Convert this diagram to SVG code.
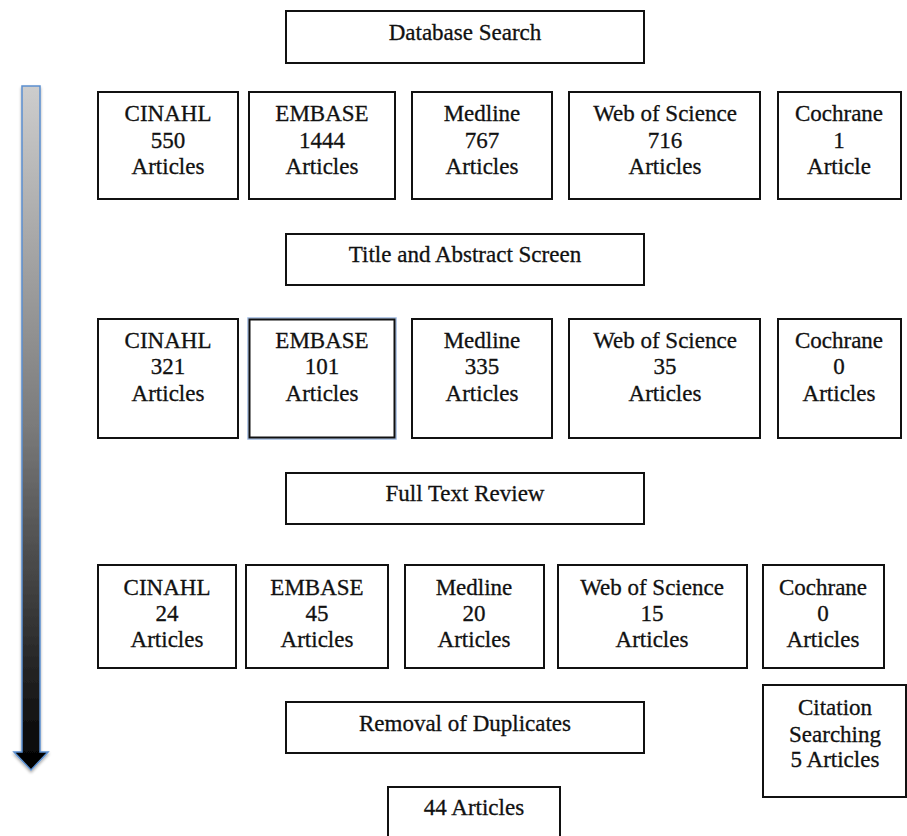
<svg xmlns="http://www.w3.org/2000/svg" width="907" height="836" viewBox="0 0 907 836">
<style>
  .box { fill: #ffffff; stroke: #111111; stroke-width: 2; }
  .t { font-family: "Liberation Serif", "DejaVu Serif", serif; font-size: 23px; fill: #111111; stroke: #111111; stroke-width: 0.3; text-anchor: middle; }
</style>
<defs>
  <linearGradient id="arrowGrad" x1="0" y1="0" x2="0" y2="1">
    <stop offset="0" stop-color="#cdcdcd"/>
    <stop offset="0.5" stop-color="#7a7a7a"/>
    <stop offset="1" stop-color="#000000"/>
  </linearGradient>
  <filter id="shadow" x="-50%" y="-5%" width="200%" height="110%">
    <feGaussianBlur in="SourceAlpha" stdDeviation="1.5"/>
    <feOffset dx="0" dy="2" result="b"/>
    <feComponentTransfer><feFuncA type="linear" slope="0.35"/></feComponentTransfer>
    <feMerge><feMergeNode/><feMergeNode in="SourceGraphic"/></feMerge>
  </filter>
</defs>
<rect x="0" y="0" width="907" height="836" fill="#ffffff"/>

<g id="connectors">
  <polygon id="timeline-arrow" points="22,86 40,86 40,752 48,752 31,770 14,752 22,752" fill="url(#arrowGrad)" stroke="#5b8fd0" stroke-width="1.5" filter="url(#shadow)"/>
</g>

<g id="database-search"><rect class="box" x="286" y="11" width="358" height="52"/><text class="t" x="465" y="40">Database Search</text></g>

<g id="r1-cinahl"><rect class="box" x="98" y="92" width="140" height="107"/><text class="t" x="168" y="121">CINAHL</text><text class="t" x="168" y="148">550</text><text class="t" x="168" y="174">Articles</text></g>
<g id="r1-embase"><rect class="box" x="249" y="92" width="146" height="107"/><text class="t" x="322" y="121">EMBASE</text><text class="t" x="322" y="148">1444</text><text class="t" x="322" y="174">Articles</text></g>
<g id="r1-medline"><rect class="box" x="412" y="92" width="140" height="107"/><text class="t" x="482" y="121">Medline</text><text class="t" x="482" y="148">767</text><text class="t" x="482" y="174">Articles</text></g>
<g id="r1-wos"><rect class="box" x="569" y="92" width="191" height="107"/><text class="t" x="665" y="121">Web of Science</text><text class="t" x="665" y="148">716</text><text class="t" x="665" y="174">Articles</text></g>
<g id="r1-cochrane"><rect class="box" x="778" y="92" width="123" height="107"/><text class="t" x="839" y="121">Cochrane</text><text class="t" x="839" y="148">1</text><text class="t" x="839" y="174">Article</text></g>

<g id="title-abstract"><rect class="box" x="286" y="234" width="358" height="51"/><text class="t" x="465" y="262">Title and Abstract Screen</text></g>

<g id="r2-cinahl"><rect class="box" x="98" y="319" width="140" height="119"/><text class="t" x="168" y="348">CINAHL</text><text class="t" x="168" y="374">321</text><text class="t" x="168" y="401">Articles</text></g>
<g id="r2-embase"><rect x="248" y="318" width="148" height="121" fill="none" stroke="#9db8e0" stroke-width="1.5"/><rect class="box" x="249.5" y="319.5" width="145" height="118" stroke="#333333" stroke-width="1.5"/><text class="t" x="322" y="348">EMBASE</text><text class="t" x="322" y="374">101</text><text class="t" x="322" y="401">Articles</text></g>
<g id="r2-medline"><rect class="box" x="412" y="319" width="140" height="119"/><text class="t" x="482" y="348">Medline</text><text class="t" x="482" y="374">335</text><text class="t" x="482" y="401">Articles</text></g>
<g id="r2-wos"><rect class="box" x="569" y="319" width="191" height="119"/><text class="t" x="665" y="348">Web of Science</text><text class="t" x="665" y="374">35</text><text class="t" x="665" y="401">Articles</text></g>
<g id="r2-cochrane"><rect class="box" x="778" y="319" width="123" height="119"/><text class="t" x="839" y="348">Cochrane</text><text class="t" x="839" y="374">0</text><text class="t" x="839" y="401">Articles</text></g>

<g id="full-text"><rect class="box" x="286" y="473" width="358" height="51"/><text class="t" x="465" y="501">Full Text Review</text></g>

<g id="r3-cinahl"><rect class="box" x="98" y="565" width="138" height="103"/><text class="t" x="167" y="595">CINAHL</text><text class="t" x="167" y="621">24</text><text class="t" x="167" y="647">Articles</text></g>
<g id="r3-embase"><rect class="box" x="246" y="565" width="142" height="103"/><text class="t" x="317" y="595">EMBASE</text><text class="t" x="317" y="621">45</text><text class="t" x="317" y="647">Articles</text></g>
<g id="r3-medline"><rect class="box" x="405" y="565" width="139" height="103"/><text class="t" x="474" y="595">Medline</text><text class="t" x="474" y="621">20</text><text class="t" x="474" y="647">Articles</text></g>
<g id="r3-wos"><rect class="box" x="558" y="565" width="189" height="103"/><text class="t" x="652" y="595">Web of Science</text><text class="t" x="652" y="621">15</text><text class="t" x="652" y="647">Articles</text></g>
<g id="r3-cochrane"><rect class="box" x="763" y="565" width="121" height="103"/><text class="t" x="823" y="595">Cochrane</text><text class="t" x="823" y="621">0</text><text class="t" x="823" y="647">Articles</text></g>

<g id="citation"><rect class="box" x="763" y="685" width="143" height="112"/><text class="t" x="835" y="715">Citation</text><text class="t" x="835" y="742">Searching</text><text class="t" x="835" y="767">5 Articles</text></g>

<g id="removal"><rect class="box" x="286" y="702" width="358" height="51"/><text class="t" x="465" y="731">Removal of Duplicates</text></g>

<g id="final"><rect class="box" x="388" y="787" width="172" height="60"/><text class="t" x="474" y="815">44 Articles</text></g>
</svg>
